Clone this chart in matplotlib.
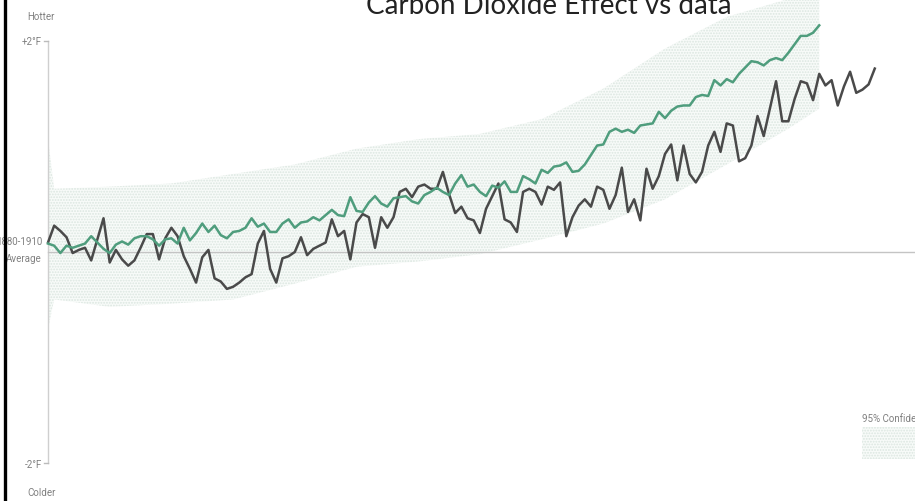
import numpy as np
import matplotlib
matplotlib.use('Agg')
import matplotlib.pyplot as plt
from matplotlib.lines import Line2D

# observed temperature vs 1880-1910 average (deg F)
obs_years = list(range(1880, 2015))
observed = [0.09, 0.25, 0.20, 0.14, -0.01, 0.02, 0.04, -0.08, 0.12, 0.32,
            -0.10, 0.02, -0.07, -0.13, -0.08, 0.04, 0.17, 0.17, -0.07, 0.13,
            0.23, 0.15, -0.04, -0.16, -0.29, -0.05, 0.02, -0.25, -0.28, -0.35,
            -0.33, -0.29, -0.24, -0.21, 0.08, 0.20, -0.16, -0.29, -0.06, -0.04,
            0.00, 0.14, -0.03, 0.03, 0.06, 0.09, 0.31, 0.15, 0.20, -0.07,
            0.28, 0.36, 0.33, 0.04, 0.33, 0.23, 0.33, 0.57, 0.60, 0.52,
            0.62, 0.64, 0.60, 0.60, 0.76, 0.55, 0.37, 0.43, 0.32, 0.30,
            0.18, 0.41, 0.53, 0.65, 0.31, 0.28, 0.19, 0.57, 0.60, 0.57,
            0.45, 0.62, 0.59, 0.66, 0.15, 0.33, 0.44, 0.50, 0.43, 0.62,
            0.59, 0.41, 0.54, 0.80, 0.38, 0.50, 0.30, 0.79, 0.60, 0.72,
            0.93, 1.02, 0.68, 1.01, 0.74, 0.66, 0.76, 1.01, 1.14, 0.95,
            1.22, 1.20, 0.86, 0.89, 1.01, 1.29, 1.10, 1.36, 1.62, 1.24,
            1.24, 1.45, 1.62, 1.60, 1.44, 1.69, 1.58, 1.63, 1.39, 1.57,
            1.71, 1.51, 1.54, 1.59, 1.74]

# carbon dioxide effect (model)
co2_years = list(range(1880, 2006))
co2 = [0.08, 0.06, -0.01, 0.06, 0.04, 0.06, 0.08, 0.15, 0.09, 0.03,
       -0.01, 0.07, 0.10, 0.07, 0.13, 0.15, 0.15, 0.12, 0.06, 0.12,
       0.13, 0.08, 0.23, 0.11, 0.18, 0.27, 0.19, 0.25, 0.16, 0.13,
       0.19, 0.20, 0.23, 0.32, 0.24, 0.27, 0.19, 0.19, 0.27, 0.31,
       0.23, 0.28, 0.29, 0.33, 0.30, 0.35, 0.40, 0.35, 0.34, 0.52,
       0.39, 0.38, 0.47, 0.53, 0.46, 0.43, 0.51, 0.52, 0.53, 0.48,
       0.46, 0.54, 0.57, 0.61, 0.57, 0.54, 0.65, 0.73, 0.62, 0.64,
       0.57, 0.53, 0.63, 0.61, 0.67, 0.57, 0.57, 0.72, 0.69, 0.65,
       0.78, 0.75, 0.81, 0.82, 0.85, 0.76, 0.77, 0.83, 0.92, 1.01,
       1.02, 1.14, 1.17, 1.14, 1.16, 1.13, 1.20, 1.21, 1.22, 1.33,
       1.27, 1.34, 1.38, 1.39, 1.39, 1.47, 1.49, 1.48, 1.63, 1.58,
       1.64, 1.61, 1.69, 1.75, 1.81, 1.80, 1.77, 1.82, 1.84, 1.82,
       1.89, 1.97, 2.05, 2.05, 2.08, 2.15]

# 95% confidence band of the model
band_years = [1880, 1881, 1890, 1900, 1910, 1920, 1930, 1940, 1950, 1960, 1970, 1980, 1990, 2000, 2005]
band_hi = [1.07, 0.60, 0.62, 0.65, 0.74, 0.83, 0.98, 1.07, 1.12, 1.26, 1.55, 1.93, 2.23, 2.40, 2.50]
band_lo = [-0.73, -0.45, -0.52, -0.49, -0.45, -0.30, -0.14, -0.09, -0.02, 0.12, 0.27, 0.50, 0.83, 1.17, 1.36]

W, H = 915, 502
fig = plt.figure(figsize=(W / 100, H / 100), dpi=100)
ax = fig.add_axes([0, 0, 1, 1])
ax.set_xlim(1872.22, 2020.52)
ax.set_ylim(-2.362, 2.400)
ax.axis('off')

def px(x, y):
    return x / W, 1 - y / H

plt.rcParams['hatch.linewidth'] = 0.9
plt.rcParams['hatch.color'] = '#dbe6e0'

ax.fill_between(band_years, band_lo, band_hi, facecolor='#f8fbf9', edgecolor='#dbe6e0',
                hatch='......', linewidth=0, zorder=1)

# axis and zero line
ax.plot([1880, 1880], [-2, 2], color='#cfcfcf', lw=1, zorder=2)
ax.plot([1880, 2020.52], [0, 0], color='#c4c4c4', lw=1, zorder=2)
for v in [2, -2]:
    ax.plot([1879.35, 1880], [v, v], color='#bbbbbb', lw=1, zorder=2)

ax.plot(co2_years, co2, color='#4f9d7d', lw=1.8, zorder=4)
ax.plot(obs_years, observed, color='#4a4a4a', lw=1.8, zorder=3)

lab = dict(color='#808080', fontsize=7, family='Roboto', transform=ax.transAxes)
ax.text(*px(27, 17), 'Hotter', ha='left', va='center', **lab)
ax.text(*px(42, 42), '+2°F', ha='right', va='center', **lab)
ax.text(*px(42, 242), '1880-1910', ha='right', va='center', **lab)
ax.text(*px(42, 259), 'Average', ha='right', va='center', **lab)
ax.text(*px(42, 465), '-2°F', ha='right', va='center', **lab)
ax.text(*px(27, 493), 'Colder', ha='left', va='center', **lab)

# legend swatch
ax.text(*px(862, 419), '95% Confidence', ha='left', va='center', clip_on=False, **lab)
sw = plt.Rectangle(px(862, 460), 60 / W, 32 / H, transform=ax.transAxes, facecolor='#f8fbf9',
                   edgecolor='#dbe6e0', hatch='......', linewidth=0, zorder=1)
ax.add_patch(sw)

ax.text(*px(549, 14), 'Carbon Dioxide Effect vs data', ha='center', va='baseline',
        fontsize=20, family='Lato', color='#222222', transform=ax.transAxes)

fig.add_artist(Line2D([4.5 / W, 4.5 / W], [0, 1], color='black', lw=2.4))

fig.savefig('out.png', dpi=100)
